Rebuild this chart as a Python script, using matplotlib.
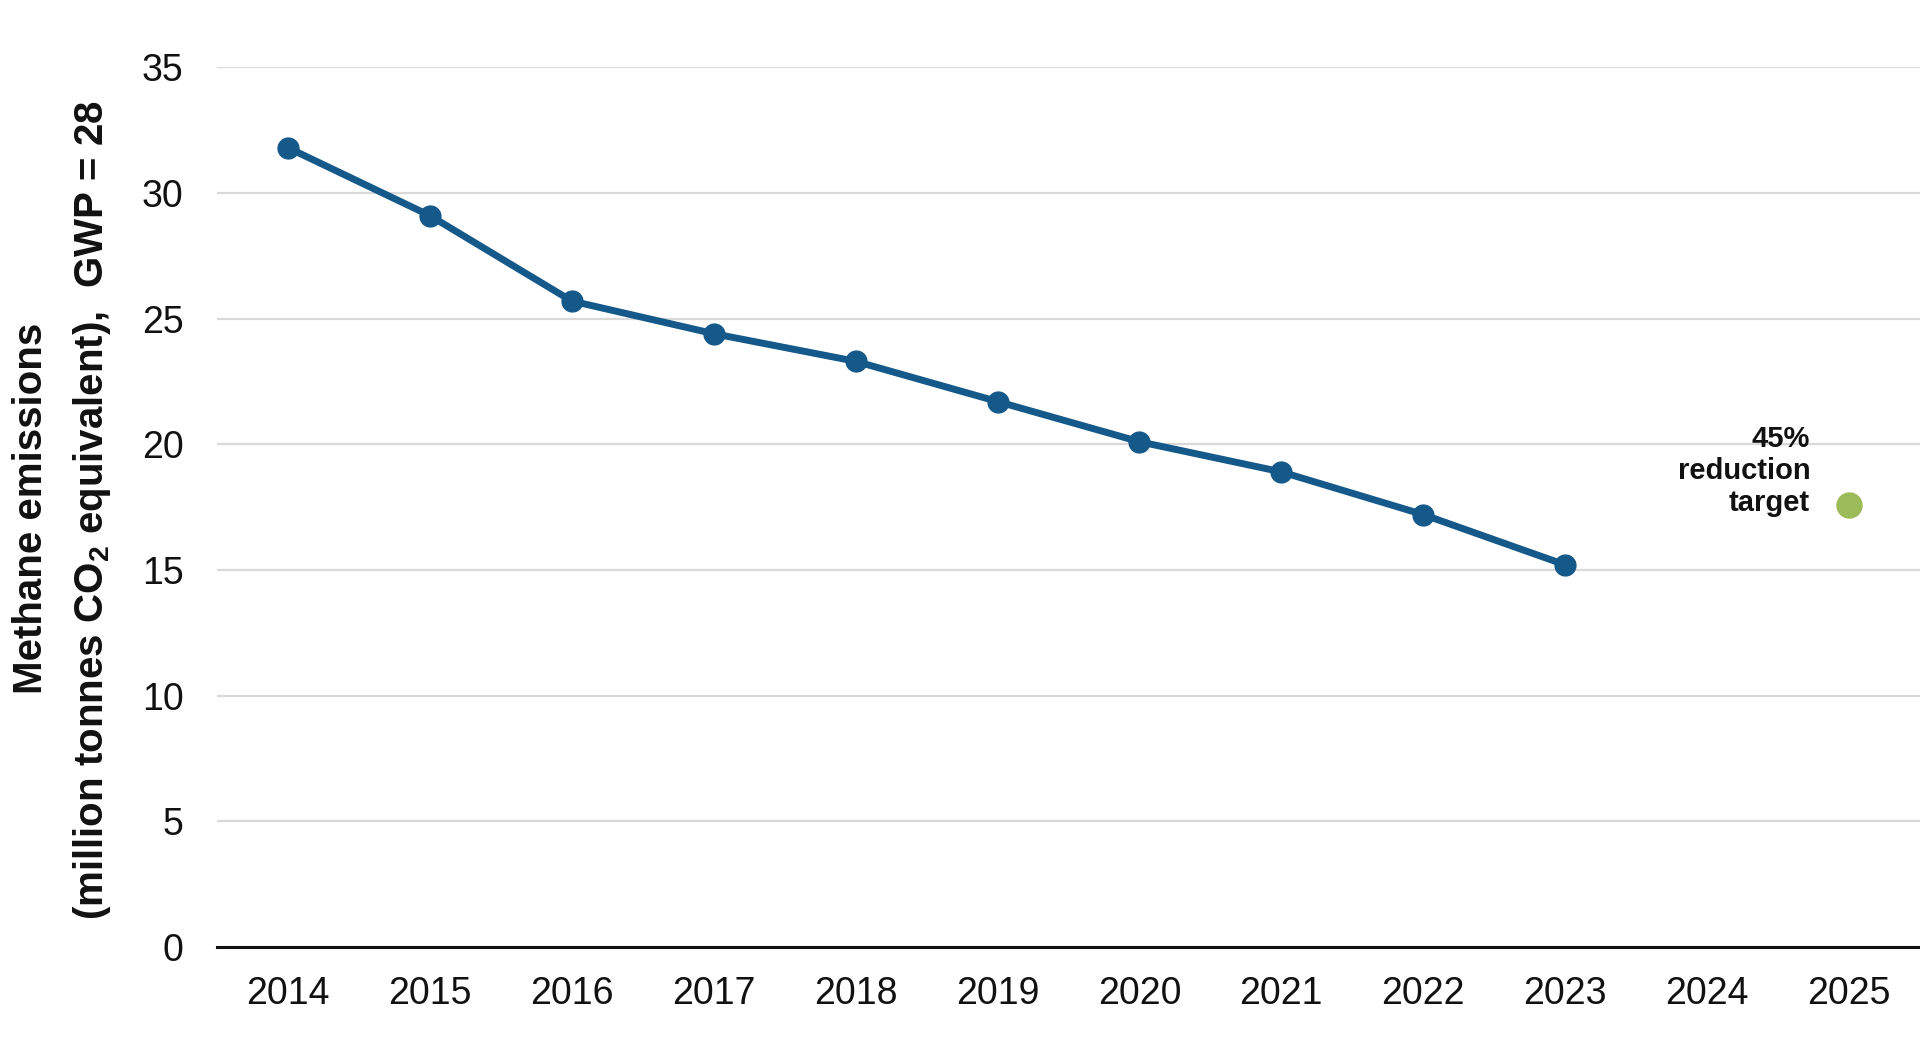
import matplotlib
matplotlib.use("Agg")
import matplotlib.pyplot as plt

years = [2014, 2015, 2016, 2017, 2018, 2019, 2020, 2021, 2022, 2023]
emissions = [31.8, 29.1, 25.7, 24.4, 23.3, 21.7, 20.1, 18.9, 17.2, 15.2]
target_year = [2025]
target_value = [17.6]
all_years = [2014, 2015, 2016, 2017, 2018, 2019, 2020, 2021, 2022, 2023, 2024, 2025]
yticks = [0, 5, 10, 15, 20, 25, 30, 35]

plt.rcParams['font.family'] = ['Liberation Sans', 'DejaVu Sans']
plt.rcParams['mathtext.fontset'] = 'custom'
plt.rcParams['mathtext.rm'] = 'Liberation Sans'
plt.rcParams['mathtext.bf'] = 'Liberation Sans:bold'

fig = plt.figure(figsize=(19.2, 10.52), dpi=100)
ax = fig.add_axes([0.113, 0.1, 0.887, 0.836])

ax.plot(years, emissions, color='#15598A', lw=5, marker='o', ms=15, zorder=3,
        solid_capstyle='round')
ax.plot(target_year, target_value, 'o', color='#9BBB59', ms=18, zorder=3)
ax.annotate('45%\nreduction\ntarget', xy=(target_year[0], target_value[0]),
            xytext=(-28, -5), textcoords='offset points', ha='right',
            va='baseline', fontsize=21, fontweight='bold', linespacing=1.2, color='#111111')

ax.set_xlim(2013.5, 2025.5)
ax.set_ylim(0, 35)
ax.set_xticks(all_years)
ax.set_xticklabels([str(y) for y in all_years])
ax.set_yticks(yticks)
ax.tick_params(axis='both', length=0, labelsize=27, colors='#111111')
ax.tick_params(axis='y', pad=24)
ax.tick_params(axis='x', pad=21)
ax.grid(axis='y', color='#D9D9D9', lw=1.6)
ax.set_axisbelow(True)
for s in ['top', 'right', 'left']:
    ax.spines[s].set_visible(False)
ax.spines['bottom'].set_color('#111111')
ax.spines['bottom'].set_linewidth(2.2)
ax.spines['bottom'].set_zorder(4)

fig.text(0.016, 0.517, 'Methane emissions', rotation=90, ha='center', va='center',
         fontsize=29, fontweight='bold', color='#111111')
fig.text(0.048, 0.515, r'(million tonnes CO$_{\mathbf{2}}$ equivalent),  GWP = 28', rotation=90,
         ha='center', va='center', fontsize=29, fontweight='bold', color='#111111')

fig.savefig('out.png', dpi=100, facecolor='white')
